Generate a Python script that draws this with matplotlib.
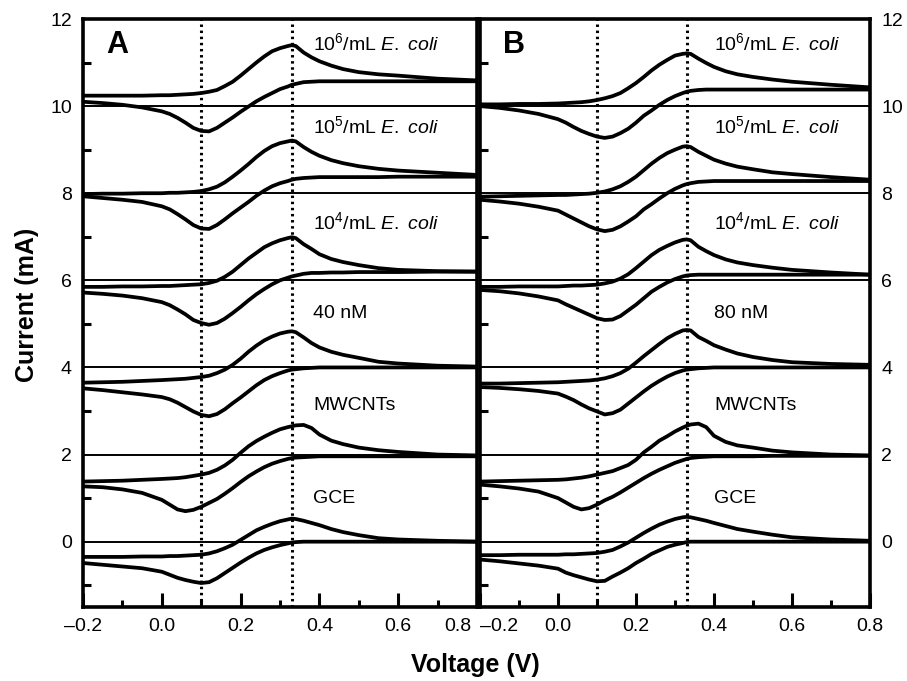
import matplotlib
matplotlib.use("Agg")
import matplotlib.pyplot as plt
from matplotlib.ticker import FixedLocator, FixedFormatter
from matplotlib.transforms import ScaledTranslation

plt.rcParams['font.family'] = ['Liberation Sans', 'DejaVu Sans']
plt.rcParams['mathtext.fontset'] = 'custom'
plt.rcParams['mathtext.rm'] = 'Liberation Sans'
plt.rcParams['mathtext.it'] = 'Liberation Sans:italic'

# ---------------- data ----------------
voltage = [-0.2, -0.15, -0.1, -0.05, 0.0, 0.02, 0.04, 0.06, 0.08, 0.1, 0.12,
           0.14, 0.16, 0.18, 0.2, 0.22, 0.24, 0.26, 0.28, 0.3, 0.32, 0.33,
           0.34, 0.36, 0.38, 0.4, 0.43, 0.46, 0.5, 0.55, 0.6, 0.7, 0.8]

labels = [r'10$^{6}$/mL $\mathit{E.\ coli}$', r'10$^{5}$/mL $\mathit{E.\ coli}$',
          r'10$^{4}$/mL $\mathit{E.\ coli}$', None, 'MWCNTs', 'GCE']
label_y = [11.45, 9.53, 7.33, 5.25, 3.12, 1.0]
probe_labels = ['40 nM', '80 nM']
baselines = [0, 2, 4, 6, 8, 10]

# Panel A (forward scan = upper branch, reverse scan = lower branch)
a_e6_fwd = [10.24, 10.24, 10.24, 10.24, 10.25, 10.25, 10.26, 10.27, 10.28, 10.3, 10.33,
            10.37, 10.46, 10.56, 10.7, 10.85, 11.0, 11.14, 11.26, 11.33, 11.38, 11.4,
            11.38, 11.23, 11.12, 11.03, 10.93, 10.85, 10.78, 10.73, 10.7, 10.63, 10.59]
a_e6_rev = [10.1, 10.07, 10.03, 9.97, 9.88, 9.82, 9.73, 9.62, 9.5, 9.43, 9.42,
            9.5, 9.62, 9.74, 9.87, 9.99, 10.11, 10.21, 10.3, 10.39, 10.45, 10.49,
            10.51, 10.55, 10.56, 10.57, 10.57, 10.57, 10.57, 10.57, 10.57, 10.57, 10.57]
a_e5_fwd = [7.98, 7.99, 7.99, 8.0, 8.0, 8.01, 8.01, 8.02, 8.03, 8.05, 8.09,
            8.15, 8.25, 8.38, 8.52, 8.67, 8.83, 8.97, 9.08, 9.15, 9.19, 9.21,
            9.19, 9.06, 8.95, 8.86, 8.76, 8.69, 8.62, 8.56, 8.52, 8.47, 8.42]
a_e5_rev = [7.93, 7.89, 7.85, 7.8, 7.7, 7.63, 7.52, 7.4, 7.27, 7.19, 7.18,
            7.27, 7.4, 7.54, 7.67, 7.8, 7.94, 8.06, 8.16, 8.23, 8.28, 8.31,
            8.33, 8.35, 8.36, 8.37, 8.37, 8.37, 8.37, 8.37, 8.38, 8.38, 8.38]
a_e4_fwd = [5.85, 5.85, 5.86, 5.86, 5.87, 5.87, 5.88, 5.89, 5.9, 5.91, 5.94,
            5.99, 6.08, 6.2, 6.35, 6.5, 6.63, 6.76, 6.85, 6.92, 6.97, 6.99,
            6.97, 6.83, 6.72, 6.6, 6.49, 6.42, 6.35, 6.28, 6.24, 6.21, 6.2]
a_e4_rev = [5.72, 5.69, 5.65, 5.59, 5.5, 5.43, 5.33, 5.22, 5.09, 5.02, 4.98,
            5.02, 5.12, 5.25, 5.39, 5.54, 5.68, 5.8, 5.91, 6.0, 6.06, 6.09,
            6.11, 6.15, 6.17, 6.17, 6.18, 6.18, 6.19, 6.19, 6.19, 6.2, 6.2]
a_np_fwd = [3.65, 3.66, 3.67, 3.69, 3.71, 3.72, 3.73, 3.74, 3.76, 3.78, 3.81,
            3.87, 3.95, 4.06, 4.2, 4.36, 4.5, 4.62, 4.71, 4.78, 4.82, 4.83,
            4.81, 4.69, 4.56, 4.46, 4.36, 4.29, 4.22, 4.13, 4.09, 4.04, 4.02]
a_np_rev = [3.52, 3.48, 3.43, 3.38, 3.32, 3.27, 3.19, 3.09, 2.99, 2.91, 2.88,
            2.93, 3.04, 3.18, 3.31, 3.45, 3.59, 3.71, 3.8, 3.87, 3.93, 3.95,
            3.96, 3.98, 3.99, 4.0, 4.0, 4.0, 4.0, 4.0, 4.0, 4.0, 4.0]
a_mw_fwd = [1.38, 1.39, 1.4, 1.42, 1.44, 1.45, 1.46, 1.48, 1.51, 1.54, 1.58,
            1.65, 1.75, 1.88, 2.04, 2.19, 2.31, 2.41, 2.5, 2.58, 2.63, 2.65,
            2.67, 2.68, 2.61, 2.46, 2.32, 2.24, 2.16, 2.1, 2.06, 2.0, 1.98]
a_mw_rev = [1.27, 1.25, 1.2, 1.12, 0.96, 0.85, 0.74, 0.7, 0.73, 0.8, 0.89,
            0.98, 1.1, 1.23, 1.37, 1.5, 1.61, 1.71, 1.79, 1.85, 1.9, 1.92,
            1.93, 1.94, 1.95, 1.96, 1.96, 1.96, 1.96, 1.96, 1.96, 1.96, 1.96]
a_gc_fwd = [-0.35, -0.35, -0.35, -0.34, -0.34, -0.33, -0.33, -0.32, -0.31, -0.3, -0.27,
            -0.22, -0.15, -0.07, 0.04, 0.15, 0.26, 0.34, 0.41, 0.47, 0.51, 0.53,
            0.52, 0.48, 0.43, 0.38, 0.29, 0.22, 0.15, 0.08, 0.05, 0.02, 0.0]
a_gc_rev = [-0.49, -0.53, -0.57, -0.61, -0.69, -0.76, -0.83, -0.88, -0.92, -0.95, -0.93,
            -0.84, -0.72, -0.6, -0.48, -0.37, -0.27, -0.19, -0.13, -0.08, -0.04, -0.02,
            -0.01, 0.0, 0.0, 0.0, 0.0, 0.0, 0.0, 0.0, 0.0, 0.0, 0.0]

# Panel B
b_e6_fwd = [10.04, 10.04, 10.05, 10.05, 10.06, 10.07, 10.08, 10.09, 10.11, 10.14, 10.18,
            10.23, 10.3, 10.41, 10.53, 10.67, 10.82, 10.95, 11.06, 11.16, 11.2, 11.21,
            11.2, 11.09, 10.99, 10.9, 10.8, 10.73, 10.67, 10.61, 10.56, 10.49, 10.43]
b_e6_rev = [10.0, 9.96, 9.9, 9.82, 9.7, 9.62, 9.52, 9.43, 9.36, 9.3, 9.27,
            9.3, 9.38, 9.48, 9.62, 9.78, 9.9, 10.03, 10.14, 10.23, 10.3, 10.33,
            10.35, 10.37, 10.38, 10.38, 10.38, 10.38, 10.38, 10.38, 10.38, 10.38, 10.38]
b_e5_fwd = [7.92, 7.93, 7.94, 7.95, 7.96, 7.96, 7.97, 7.98, 7.99, 8.01, 8.04,
            8.09, 8.16, 8.26, 8.38, 8.53, 8.68, 8.81, 8.92, 9.0, 9.07, 9.08,
            9.06, 8.95, 8.86, 8.77, 8.68, 8.61, 8.55, 8.48, 8.44, 8.37, 8.31]
b_e5_rev = [7.85, 7.81, 7.76, 7.69, 7.6, 7.51, 7.42, 7.33, 7.24, 7.17, 7.13,
            7.16, 7.24, 7.35, 7.47, 7.63, 7.75, 7.88, 8.0, 8.1, 8.18, 8.21,
            8.23, 8.26, 8.27, 8.28, 8.28, 8.28, 8.28, 8.28, 8.28, 8.28, 8.28]
b_e4_fwd = [5.85, 5.85, 5.86, 5.86, 5.86, 5.87, 5.88, 5.88, 5.89, 5.9, 5.93,
            5.97, 6.04, 6.14, 6.28, 6.43, 6.58, 6.7, 6.79, 6.87, 6.93, 6.94,
            6.92, 6.77, 6.67, 6.58, 6.48, 6.41, 6.35, 6.29, 6.24, 6.18, 6.13]
b_e4_rev = [5.78, 5.75, 5.7, 5.63, 5.54, 5.45, 5.37, 5.29, 5.21, 5.13, 5.09,
            5.1, 5.18, 5.31, 5.44, 5.59, 5.74, 5.85, 5.95, 6.03, 6.09, 6.11,
            6.12, 6.13, 6.13, 6.13, 6.13, 6.13, 6.13, 6.13, 6.13, 6.13, 6.13]
b_np_fwd = [3.63, 3.63, 3.64, 3.65, 3.66, 3.67, 3.68, 3.69, 3.7, 3.72, 3.75,
            3.8, 3.87, 3.97, 4.11, 4.26, 4.4, 4.54, 4.67, 4.77, 4.85, 4.86,
            4.85, 4.7, 4.61, 4.51, 4.41, 4.32, 4.24, 4.17, 4.12, 4.08, 4.06]
b_np_rev = [3.55, 3.53, 3.5, 3.46, 3.4, 3.33, 3.25, 3.15, 3.06, 2.99, 2.92,
            2.95, 3.03, 3.17, 3.31, 3.45, 3.58, 3.69, 3.79, 3.87, 3.93, 3.95,
            3.96, 3.98, 3.99, 4.0, 4.0, 4.0, 4.0, 4.0, 4.0, 4.0, 4.0]
b_mw_fwd = [1.38, 1.39, 1.4, 1.41, 1.42, 1.43, 1.45, 1.47, 1.5, 1.54, 1.58,
            1.62, 1.69, 1.76, 1.88, 2.05, 2.18, 2.32, 2.42, 2.53, 2.62, 2.66,
            2.69, 2.71, 2.63, 2.43, 2.29, 2.21, 2.16, 2.09, 2.05, 2.0, 1.98]
b_mw_rev = [1.31, 1.27, 1.22, 1.15, 1.0, 0.9, 0.8, 0.74, 0.77, 0.85, 0.95,
            1.03, 1.13, 1.24, 1.35, 1.46, 1.56, 1.65, 1.73, 1.81, 1.87, 1.9,
            1.92, 1.94, 1.95, 1.96, 1.96, 1.96, 1.96, 1.97, 1.97, 1.97, 1.97]
b_gc_fwd = [-0.31, -0.31, -0.3, -0.3, -0.3, -0.29, -0.29, -0.28, -0.27, -0.26, -0.23,
            -0.19, -0.11, -0.02, 0.09, 0.2, 0.3, 0.39, 0.46, 0.52, 0.56, 0.57,
            0.56, 0.52, 0.48, 0.43, 0.36, 0.29, 0.23, 0.16, 0.1, 0.05, 0.02]
b_gc_rev = [-0.41, -0.45, -0.5, -0.55, -0.62, -0.71, -0.77, -0.82, -0.87, -0.91, -0.9,
            -0.8, -0.71, -0.61, -0.49, -0.39, -0.28, -0.2, -0.12, -0.07, -0.03, -0.01,
            0.0, 0.0, 0.0, 0.0, 0.0, 0.0, 0.0, 0.0, 0.0, 0.0, 0.0]

panel_a = [(a_e6_fwd, a_e6_rev), (a_e5_fwd, a_e5_rev), (a_e4_fwd, a_e4_rev),
           (a_np_fwd, a_np_rev), (a_mw_fwd, a_mw_rev), (a_gc_fwd, a_gc_rev)]
panel_b = [(b_e6_fwd, b_e6_rev), (b_e5_fwd, b_e5_rev), (b_e4_fwd, b_e4_rev),
           (b_np_fwd, b_np_rev), (b_mw_fwd, b_mw_rev), (b_gc_fwd, b_gc_rev)]

peak_lines = [0.1, 0.33]
xticks = [-0.2, 0.0, 0.2, 0.4, 0.6, 0.8]
xtick_labels = ['\u20130.2', '0.0', '0.2', '0.4', '0.6', '0.8']
yticks = [0, 2, 4, 6, 8, 10, 12]

# ---------------- figure ----------------
fig = plt.figure(figsize=(9.07, 6.81), dpi=100)
W, H = 907, 681
bottom = (H - 607) / H
top = (H - 19) / H
axA = fig.add_axes([83 / W, bottom, (477 - 83) / W, top - bottom])
axB = fig.add_axes([480 / W, bottom, (870 - 480) / W, top - bottom])

for ax, data, letter, probe, tx in [(axA, panel_a, 'A', probe_labels[0], 0.385),
                                    (axB, panel_b, 'B', probe_labels[1], 0.40)]:
    ax.set_xlim(-0.2, 0.8)
    ax.set_ylim(-1.5, 12)
    for b in baselines:
        ax.axhline(b, color='black', lw=1.4, zorder=1)
    for xv in peak_lines:
        ax.axvline(xv, color='black', lw=2.2, ls=(0, (0.8, 1.2)), zorder=2)
    for fwd, rev in data:
        ax.plot(voltage, fwd, color='black', lw=2.7, zorder=3, solid_joinstyle='round')
        ax.plot(voltage, rev, color='black', lw=2.7, zorder=3, solid_joinstyle='round')
    for lab, ly in zip(labels, label_y):
        t = probe if lab is None else lab
        ax.text(tx, ly, t, fontsize=14, va='center', ha='left')
    ax.text(-0.14, 11.4, letter, fontsize=22, fontweight='bold', va='center', ha='left')

    for sp in ax.spines.values():
        sp.set_linewidth(2.6)
    ax.xaxis.set_major_locator(FixedLocator(xticks))
    ax.xaxis.set_major_formatter(FixedFormatter(xtick_labels))
    ax.xaxis.set_minor_locator(FixedLocator([-0.1, 0.1, 0.3, 0.5, 0.7]))
    ax.yaxis.set_major_locator(FixedLocator(yticks))
    ax.yaxis.set_minor_locator(FixedLocator([-1, 1, 3, 5, 7, 9, 11]))
    ax.tick_params(axis='x', which='major', direction='in', length=10, width=2.2,
                   labelsize=14, pad=8, top=False)
    ax.tick_params(axis='x', which='minor', direction='in', length=5, width=2.2, top=False)
    ax.tick_params(axis='y', which='major', direction='in', length=0, labelsize=14, pad=8)
    ax.tick_params(axis='y', which='minor', direction='in', length=6, width=2.2)

axA.tick_params(axis='y', which='both', left=True, right=False, labelleft=True, labelright=False)
axB.tick_params(axis='y', which='both', left=True, right=False, labelleft=False, labelright=True)

# keep the shared-edge tick labels apart, as in the reference
labA = axA.get_xticklabels()[-1]
labA.set_horizontalalignment('right')
labA.set_transform(labA.get_transform() + ScaledTranslation(-0.06, 0, fig.dpi_scale_trans))
labB = axB.get_xticklabels()[0]
labB.set_horizontalalignment('left')

fig.text(475 / W, 1 - 665 / H, 'Voltage (V)', fontsize=18, fontweight='bold',
         ha='center', va='center')
fig.text(27 / W, 1 - 305 / H, 'Current (mA)', fontsize=18, fontweight='bold',
         ha='center', va='center', rotation=90)

fig.savefig('out.png', dpi=100)
